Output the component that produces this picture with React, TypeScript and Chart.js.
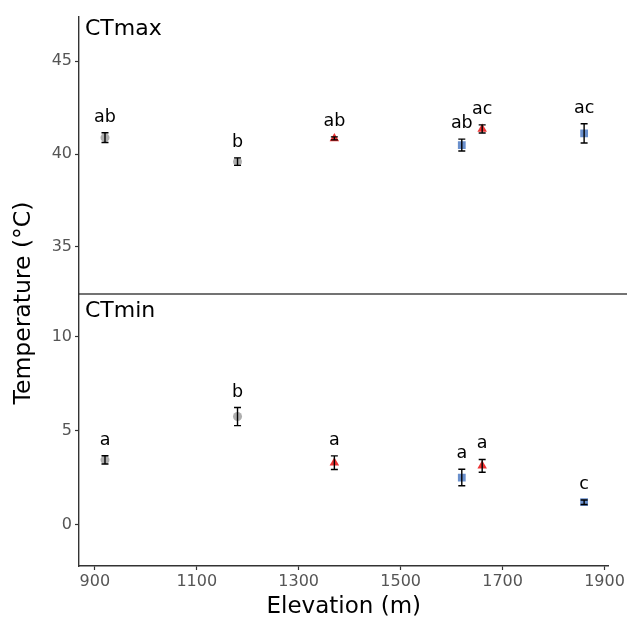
import React, { useEffect, useRef } from 'react';
import { Chart, registerables } from 'chart.js';

Chart.register(...registerables);

// ---- data ----
const elevations = [920, 1180, 1370, 1620, 1660, 1860];
const groups = ['grey', 'grey', 'red', 'blue', 'red', 'blue'];
const ctmaxMean = [40.88, 39.59, 40.84, 40.48, 41.35, 41.11];
const ctmaxSE = [0.26, 0.2, 0.08, 0.32, 0.22, 0.52];
const ctmaxLetters = ['ab', 'b', 'ab', 'ab', 'ac', 'ac'];
const ctminMean = [3.46, 5.76, 3.31, 2.52, 3.14, 1.21];
const ctminSE = [0.22, 0.48, 0.36, 0.44, 0.34, 0.12];
const ctminLetters = ['a', 'b', 'a', 'a', 'a', 'c'];
const xTicks = [900, 1100, 1300, 1500, 1700, 1900];
const ctmaxTicks = [35, 40, 45];
const ctminTicks = [0, 5, 10];

const FONT = "'DejaVu Sans', sans-serif";
const AXIS = '#333333';
const TICKTXT = '#555555';

const groupStyle: Record<string, { color: string; shape: string; radius: number }> = {
  grey: { color: 'rgba(160,160,160,0.85)', shape: 'circle', radius: 4.5 },
  red: { color: 'rgba(235,30,30,0.9)', shape: 'triangle', radius: 5.5 },
  blue: { color: 'rgba(90,132,200,0.9)', shape: 'rect', radius: 5.5 },
};

function makeDatasets(means: number[], axisId: string) {
  return ['grey', 'red', 'blue'].map((g) => {
    const st = groupStyle[g];
    const data = elevations
      .map((e, i) => ({ x: e, y: means[i], g: groups[i] }))
      .filter((p) => p.g === g)
      .map((p) => ({ x: p.x, y: p.y }));
    return {
      label: g,
      data,
      yAxisID: axisId,
      pointStyle: st.shape,
      pointRadius: st.radius,
      backgroundColor: st.color,
      borderColor: st.color,
      borderWidth: 0,
      showLine: false,
    };
  });
}

const overlay = {
  id: 'overlay',
  afterDatasetsDraw(chart: any) {
    const ctx = chart.ctx;
    const xs = chart.scales.x;
    const panels = [
      { scale: chart.scales.yTop, mean: ctmaxMean, se: ctmaxSE, letters: ctmaxLetters },
      { scale: chart.scales.y, mean: ctminMean, se: ctminSE, letters: ctminLetters },
    ];
    ctx.save();
    for (const p of panels) {
      elevations.forEach((e, i) => {
        const px = xs.getPixelForValue(e);
        const top = p.scale.getPixelForValue(p.mean[i] + p.se[i]);
        const bot = p.scale.getPixelForValue(p.mean[i] - p.se[i]);
        ctx.strokeStyle = '#000';
        ctx.lineWidth = 1.4;
        ctx.beginPath();
        ctx.moveTo(px, top);
        ctx.lineTo(px, bot);
        ctx.moveTo(px - 3.5, top);
        ctx.lineTo(px + 3.5, top);
        ctx.moveTo(px - 3.5, bot);
        ctx.lineTo(px + 3.5, bot);
        ctx.stroke();
        ctx.fillStyle = '#000';
        ctx.font = `17.5px ${FONT}`;
        ctx.textAlign = 'center';
        ctx.textBaseline = 'alphabetic';
        ctx.fillText(p.letters[i], px, top - 11);
      });
    }
    // divider line between panels
    const yb = chart.scales.yTop.bottom;
    ctx.strokeStyle = '#444';
    ctx.lineWidth = 1.5;
    ctx.beginPath();
    ctx.moveTo(chart.chartArea.left, yb);
    ctx.lineTo(chart.width, yb);
    ctx.stroke();
    // panel titles
    ctx.fillStyle = '#000';
    ctx.font = `22px ${FONT}`;
    ctx.textAlign = 'left';
    ctx.textBaseline = 'alphabetic';
    ctx.fillText('CTmax', chart.chartArea.left + 6, chart.scales.yTop.top + 18);
    ctx.fillText('CTmin', chart.chartArea.left + 6, chart.scales.y.top + 23);
    // axis titles
    ctx.font = `23px ${FONT}`;
    ctx.textAlign = 'center';
    ctx.textBaseline = 'middle';
    ctx.fillText('Elevation (m)', (chart.chartArea.left + chart.chartArea.right) / 2, 607);
    ctx.save();
    ctx.font = `23.5px ${FONT}`;
    ctx.translate(24, 303);
    ctx.rotate(-Math.PI / 2);
    ctx.fillText('Temperature (°C)', 0, 0);
    ctx.restore();
    ctx.restore();
  },
};

function yAxis(min: number, max: number, ticks: number[], weight: number) {
  return {
    type: 'linear',
    position: 'left',
    stack: 'temp',
    stackWeight: weight,
    min,
    max,
    afterBuildTicks: (s: any) => {
      s.ticks = ticks.map((v) => ({ value: v }));
    },
    afterFit: (s: any) => {
      s.width = 79;
    },
    grid: { drawOnChartArea: false, drawTicks: true, tickLength: 4, tickColor: AXIS, tickWidth: 1.2 },
    border: { display: true, color: AXIS, width: 1.4 },
    ticks: { color: TICKTXT, font: { family: FONT, size: 16 }, padding: 3, callback: (v: any) => String(v) },
    title: { display: false },
  };
}

export default function App() {
  const ref = useRef<HTMLCanvasElement>(null);
  useEffect(() => {
    if (!ref.current) return;
    const chart = new Chart(ref.current, {
      type: 'scatter',
      data: {
        datasets: [...makeDatasets(ctminMean, 'y'), ...makeDatasets(ctmaxMean, 'yTop')] as any,
      },
      options: {
        animation: false,
        responsive: false,
        maintainAspectRatio: false,
        layout: { padding: { top: 17, right: 17, left: 0, bottom: 0 } },
        plugins: { legend: { display: false }, tooltip: { enabled: false } },
        scales: {
          x: {
            type: 'linear',
            min: 869,
            max: 1908,
            afterBuildTicks: (s: any) => {
              s.ticks = xTicks.map((v) => ({ value: v }));
            },
            afterFit: (s: any) => {
              s.height = 58;
            },
            grid: { drawOnChartArea: false, drawTicks: true, tickLength: 4, tickColor: AXIS, tickWidth: 1.2 },
            border: { display: true, color: AXIS, width: 1.4 },
            ticks: {
              color: TICKTXT,
              font: { family: FONT, size: 16 },
              padding: 2,
              maxRotation: 0,
              autoSkip: false,
              callback: (v: any) => String(v),
            },
          },
          y: yAxis(-2.18, 12.27, ctminTicks, 272),
          yTop: yAxis(32.47, 47.37, ctmaxTicks, 277),
        } as any,
      },
      plugins: [overlay],
    });
    return () => chart.destroy();
  }, []);
  return (
    <div style={{ position: 'absolute', left: 0, top: 0, width: 627, height: 624, background: '#fff' }}>
      <canvas ref={ref} width={627} height={624} />
    </div>
  );
}
